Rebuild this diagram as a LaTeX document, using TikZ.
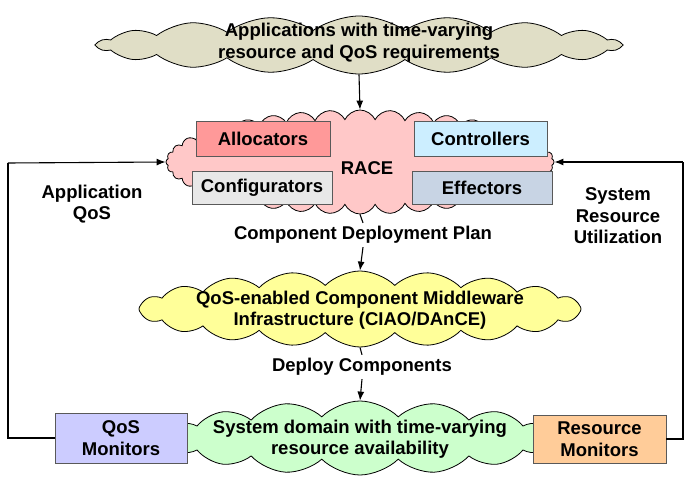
\documentclass[tikz,border=0pt]{standalone}
\usepackage{fontspec}
\setmainfont{Liberation Sans}
\usepackage{xcolor}
\usepackage{tikz}
\usetikzlibrary{shapes.symbols}
\usetikzlibrary{arrows.meta}

\definecolor{appsfill}{RGB}{224,222,198}
\definecolor{racefill}{RGB}{255,200,200}
\definecolor{allocfill}{RGB}{255,153,153}
\definecolor{ctrlfill}{RGB}{204,238,255}
\definecolor{configfill}{RGB}{232,232,232}
\definecolor{effectfill}{RGB}{200,212,228}
\definecolor{mwfill}{RGB}{255,255,153}
\definecolor{sysfill}{RGB}{204,255,204}
\definecolor{qosfill}{RGB}{204,204,255}
\definecolor{resfill}{RGB}{255,204,153}

\begin{document}
\begin{tikzpicture}[x=1pt,y=-1pt,
        lbl/.style={font=\fontsize{18.5}{21.5}\selectfont\bfseries,align=center},
        cloudbox/.style={cloud,draw=black,line width=0.8pt,cloud ignores aspect,inner sep=0pt},
        partbox/.style={lbl,rectangle,draw=black!65,line width=0.8pt,inner sep=0pt},
        conn/.style={line width=1.1pt},
        arr/.style={conn,-{Latex[length=9pt,width=7pt]}}]
        \useasboundingbox (0,0) rectangle (686,478);

        % clouds
        \node[cloudbox,fill=appsfill,cloud puffs=18,cloud puff arc=70,minimum width=522pt,minimum height=58pt] (apps) at (359,45) {};
        \node[lbl] (appstext) at (359,42.5) {Applications with time-varying\\resource and QoS requirements};
        \node[cloudbox,fill=racefill,cloud puffs=40,cloud puff arc=130,minimum width=388pt,minimum height=104pt] (race) at (360,162) {};
        \node[cloudbox,fill=mwfill,cloud puffs=20,cloud puff arc=90,minimum width=442pt,minimum height=76pt] (mw) at (360,309) {};
        \node[lbl] (mwtext) at (360,310) {QoS-enabled Component Middleware\\Infrastructure (CIAO/DAnCE)};
        \node[cloudbox,fill=sysfill,cloud puffs=16,cloud puff arc=90,minimum width=388pt,minimum height=74pt] (sysdom) at (360,438) {};
        \node[lbl] (systext) at (360,439) {System domain with time-varying\\resource availability};

        % RACE parts
        \node[partbox,fill=allocfill,minimum width=134pt,minimum height=35pt] (alloc) at (263,138.5) {Allocators};
        \node[partbox,fill=ctrlfill,minimum width=133pt,minimum height=35pt] (ctrl) at (480.5,138.5) {Controllers};
        \node[partbox,fill=configfill,minimum width=140pt,minimum height=33pt] (config) at (262,187.5) {Configurators};
        \node[partbox,fill=effectfill,minimum width=140pt,minimum height=33pt] (effect) at (482,187.5) {Effectors};
        \node[lbl] (racename) at (367,168) {RACE};

        % monitors
        \node[partbox,fill=qosfill,minimum width=132pt,minimum height=50pt] (qosmon) at (121,438) {QoS\\Monitors};
        \node[partbox,fill=resfill,minimum width=133pt,minimum height=48pt] (resmon) at (599.5,439) {Resource\\Monitors};

        % labels
        \node[lbl] (plan) at (363,235) {Component Deployment Plan};
        \node[lbl] (deploy) at (362,367) {Deploy Components};
        \node[lbl] (appqos) at (92,204) {Application\\QoS};
        \node[lbl] (sysres) at (618,216) {System\\Resource\\Utilization};

        \coordinate (lcorner) at (8,163);
        \coordinate (rcorner) at (683,162);

        % connectors
        \draw[arr] (apps.south)--(race.north);
        \draw[conn] (race.south)--(plan.north);
        \draw[arr] (plan.south)--(mw.north);
        \draw[conn] (mw.south)--(deploy.north);
        \draw[arr] (deploy.south)--(sysdom.north);
        \draw[conn] (qosmon.west)-|(lcorner);
        \draw[arr] (lcorner)--(race.west);
        \draw[conn] (resmon.east)-|(rcorner);
        \draw[arr] (rcorner)--(race.east);
    \end{tikzpicture}
\end{document}
